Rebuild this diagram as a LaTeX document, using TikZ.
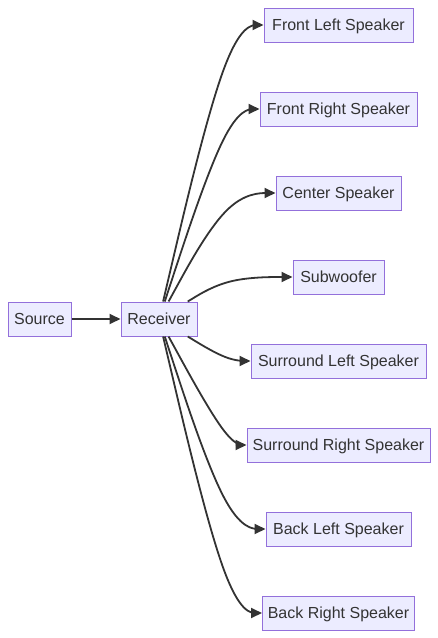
\documentclass[tikz,border=0pt]{standalone}
\usepackage{fontspec}
\setmainfont{Liberation Sans}
\usetikzlibrary{arrows.meta,calc}
\definecolor{nodefill}{HTML}{ECECFF}
\definecolor{nodeline}{HTML}{9370DB}
\definecolor{ink}{HTML}{333333}
\tikzset{
  box/.style={draw=nodeline, fill=nodefill, line width=1pt, minimum height=34pt,
    inner sep=0pt, text height=11.5pt, text depth=0pt, text=ink,
    font=\fontsize{16}{19}\selectfont},
  edge/.style={draw=ink, line width=1.8pt, -{Triangle[length=11pt,width=10pt]}}
}
\begin{document}
\begin{tikzpicture}[x=1pt,y=-1pt]
\useasboundingbox (0,0) rectangle (438,638);
\node[box, minimum width=63pt] (src) at (39.5,319) {Source};
\node[box, minimum width=76pt] (rec) at (159,319) {Receiver};
\node[box, minimum width=149pt] (fl) at (338.5,25) {Front Left Speaker};
\node[box, minimum width=157pt] (fr) at (338.5,109) {Front Right Speaker};
\node[box, minimum width=125pt] (ce) at (338.5,193) {Center Speaker};
\node[box, minimum width=91pt] (sw) at (338.5,277) {Subwoofer};
\node[box, minimum width=175pt] (sl) at (338.5,361) {Surround Left Speaker};
\node[box, minimum width=183pt] (sr) at (338.5,445) {Surround Right Speaker};
\node[box, minimum width=145pt] (bl) at (338.5,529) {Back Left Speaker};
\node[box, minimum width=152pt] (br) at (338.5,613) {Back Right Speaker};
\draw[edge] (src) -- (rec);
\coordinate (xref) at (228,0);
\foreach \t in {fl,fr,ce,sw,sl,sr,bl,br}{
  \coordinate (B\t) at (xref |- \t);
  \path (rec) -- (B\t) coordinate[pos=0] (A\t);
  \coordinate (C\t) at (\t.west);
  \coordinate (M\t) at ($(A\t)!.5!(C\t)$);
  \draw[edge] (A\t) -- ($(A\t)!1/6!(B\t)$)
    .. controls ($(A\t)!1/3!(B\t)$) and ($(A\t)!2/3!(B\t)$) .. ($(B\t)!1/3!(M\t)$)
    .. controls ($(B\t)!1/3!(C\t)$) and ($(B\t)!2/3!(C\t)$) .. ($(B\t)!5/6!(C\t)$)
    -- (C\t);
}
\end{tikzpicture}
\end{document}
